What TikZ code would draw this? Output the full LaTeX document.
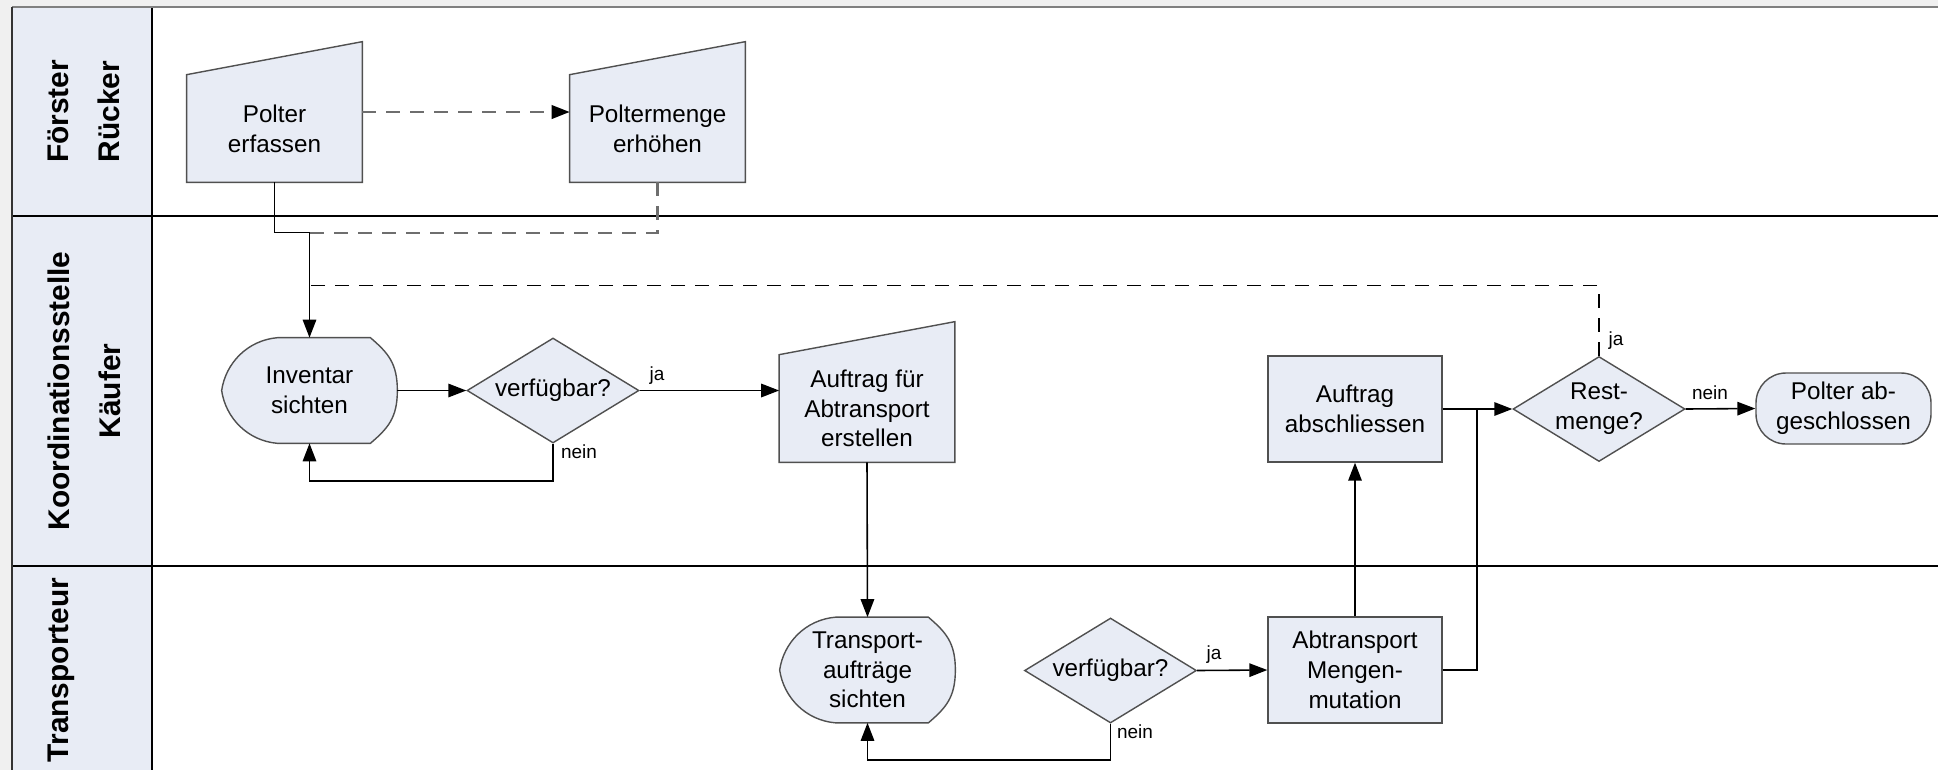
\documentclass[tikz,border=0pt]{standalone}
\usepackage{fontspec}
\setmainfont{Liberation Sans}
\usetikzlibrary{shapes.geometric,arrows.meta,backgrounds}
\definecolor{lanefill}{RGB}{232,236,245}
\definecolor{shapeline}{RGB}{80,80,80}
\definecolor{pagegray}{RGB}{240,240,240}
\definecolor{dashgray}{RGB}{110,110,110}

\begin{document}
\begin{tikzpicture}[
        >={Triangle[length=0.36cm,width=0.27cm]},
        every node/.style={font=\fontsize{13.8}{16.9}\selectfont, align=center, inner sep=0pt},
        flow/.style={line width=0.9pt},
        shapeborder/.style={draw=shapeline, line width=0.8pt, fill=lanefill},
        boxnode/.style={shapeborder, minimum width=3.48cm, minimum height=2.12cm},
        decision/.style={shapeborder, diamond, aspect=1.64, minimum width=3.44cm, minimum height=2.1cm},
        manualin/.style={minimum width=3.5cm, minimum height=2.14cm},
        dispnode/.style={minimum width=3.5cm, minimum height=2.1cm},
        endnode/.style={shapeborder, rounded corners=0.6cm, minimum width=3.5cm, minimum height=1.42cm},
        lanetitle/.style={rotate=90, font=\fontsize{17}{29}\selectfont\bfseries},
        edgelabel/.style={font=\fontsize{10.8}{13}\selectfont},
        grayflow/.style={dashgray, line width=1.3pt, dash pattern=on 0.28cm off 0.2cm},
        blackflow/.style={line width=0.9pt, dash pattern=on 0.28cm off 0.2cm}]
        \useasboundingbox (0,0) rectangle (38.76,-15.4);

        % --- Carril 1: Förster / Rücker ---
        \node[lanetitle] (LaneA) at (1.68,-2.23) {Förster\\Rücker};
        \node[manualin] (Erfassen) at (5.49,-2.57) {Polter\\erfassen};
        \node[manualin] (Erhoehen) at (13.15,-2.57) {Poltermenge\\erhöhen};

        % --- Carril 2: Koordinationsstelle / Käufer ---
        \node[lanetitle] (LaneB) at (1.68,-7.82) {Koordinationsstelle\\Käufer};
        \node[dispnode] (Inventar) at (6.19,-7.81) {Inventar\\sichten};
        \node[decision] (Verf1) at (11.06,-7.81) {verfügbar?};
        \node[manualin] (Auftrag) at (17.34,-8.17) {Auftrag für\\Abtransport\\erstellen};
        \node[boxnode] (Abschluss) at (27.1,-8.18) {Auftrag\\abschliessen};
        \node[decision] (Rest) at (31.98,-8.18) {Rest-\\menge?};
        \node[endnode] (Ende) at (36.87,-8.17) {Polter ab-\\geschlossen};

        % --- Carril 3: Transporteur ---
        \node[lanetitle] (LaneC) at (1.22,-13.4) {Transporteur};
        \node[dispnode] (Transport) at (17.35,-13.4) {Transport-\\aufträge\\sichten};
        \node[decision] (Verf2) at (22.21,-13.41) {verfügbar?};
        \node[boxnode] (Mutation) at (27.1,-13.4) {Abtransport\\Mengen-\\mutation};

        % --- Fondo, carriles y formas propias ---
        \begin{scope}[on background layer]
            \fill[pagegray] (0,0) rectangle (38.76,-15.4);
            \fill[white] (0.24,-0.14) rectangle (38.76,-15.4);
            \fill[lanefill] (0.24,-0.14) rectangle (3.04,-15.4);
            \draw[line width=1.2pt] (0.24,-4.32) -- (38.76,-4.32) (0.24,-11.32) -- (38.76,-11.32);
            \draw[line width=1.2pt] (3.04,-0.14) -- (3.04,-15.4);
            \draw[line width=1.6pt, gray] (0.24,-0.14) -- (38.76,-0.14);
            \draw[line width=1pt, black!80] (0.24,-0.14) -- (0.24,-15.4);
            % entradas manuales
            \foreach \n in {Erfassen,Erhoehen,Auftrag}
                \draw[shapeborder] (\n.south west) -- (\n.south east) -- ([yshift=0.66cm]\n.north east) -- (\n.north west) -- cycle;
            % formas de pantalla
            \foreach \n in {Inventar,Transport}
                \draw[shapeborder] ([xshift=1.12cm]\n.north west) -- ([xshift=-0.54cm]\n.north east)
                    .. controls +(0.35,-0.3) and +(0,0.55) .. (\n.east)
                    .. controls +(0,-0.55) and +(0.35,0.3) .. ([xshift=-0.54cm]\n.south east)
                    -- ([xshift=1.12cm]\n.south west)
                    .. controls +(-0.6,0.05) and +(0.08,-0.55) .. (\n.west)
                    .. controls +(0.08,0.55) and +(-0.6,-0.05) .. ([xshift=1.12cm]\n.north west) -- cycle;
        \end{scope}

        % --- Conexiones ---
        \coordinate (Merge) at ([yshift=2.1cm]Inventar.north);
        \coordinate (Back) at ([yshift=1.04cm]Inventar.north);
        \draw[grayflow, -{Triangle[length=0.36cm,width=0.27cm,black]}] ([yshift=0.33cm]Erfassen.east) -- ([yshift=0.33cm]Erhoehen.west);
        \draw[flow, ->] (Erfassen.south) |- (Merge) -- (Inventar.north);
        \draw[grayflow] (Erhoehen.south) |- (Merge);
        \draw[blackflow] (Rest.north) |- (Back);
        \draw[flow, ->] (Inventar.east) -- (Verf1.west);
        \draw[flow, ->] (Verf1.east) -- (Verf1.east -| Auftrag.west);
        \draw[flow, ->] (Verf1.south) -- ++(0,-0.74) -| (Inventar.south);
        \draw[flow, ->] (Auftrag.south) -- (Transport.north);
        \draw[flow, ->] (Verf2.east) -- (Mutation.west);
        \draw[flow, ->] (Verf2.south) -- ++(0,-0.72) -| (Transport.south);
        \draw[flow, ->] (Mutation.north) -- (Abschluss.south);
        \draw[flow, ->] (Abschluss.east) -- (Rest.west);
        \draw[flow] (Mutation.east) -| ([xshift=0.68cm]Abschluss.east);
        \draw[flow, ->] (Rest.east) -- (Ende.west);

        % --- Etiquetas ---
        \node[edgelabel] (Ja1) at (13.14,-7.52) {ja};
        \node[edgelabel] (Nein1) at (11.58,-9.04) {nein};
        \node[edgelabel] (Ja2) at (24.28,-13.1) {ja};
        \node[edgelabel] (Nein2) at (22.7,-14.64) {nein};
        \node[edgelabel] (Ja3) at (32.32,-6.82) {ja};
        \node[edgelabel] (Nein3) at (34.2,-7.86) {nein};
    \end{tikzpicture}
\end{document}
